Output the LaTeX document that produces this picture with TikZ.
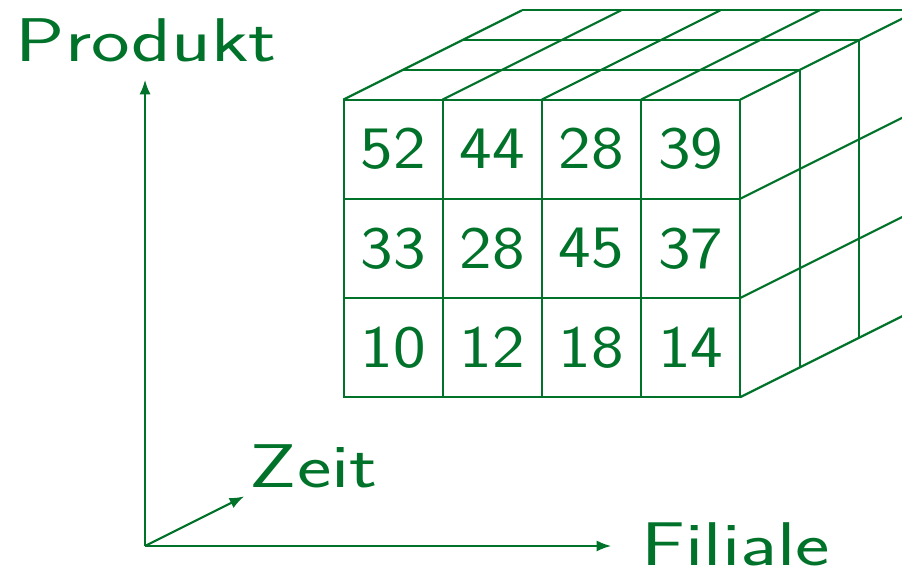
\documentclass[tikz,border=0pt]{standalone}
\usepackage{graphicx}
\usetikzlibrary{arrows.meta}
\definecolor{cubegreen}{RGB}{0,114,42}
\newcommand{\cellnum}[1]{\scalebox{1.15}[1]{#1}}
\newcommand{\axisname}[1]{\scalebox{1.33}[1]{\fontsize{17.7}{21}\selectfont #1}}
\tikzset{
  cubeline/.style={draw=cubegreen, line width=0.62pt},
  axisline/.style={cubeline, -{Latex[length=4.2pt,width=3.2pt]}},
  cellval/.style={text=cubegreen, font=\sffamily\fontsize{17.28}{20}\selectfont, inner sep=0pt},
  axislabel/.style={cellval, anchor=base west}
}
\begin{document}
\begin{tikzpicture}

\clip (-1.462,-0.242) rectangle (7.631,5.504);

% axes
\coordinate (origin) at (0,0);
\coordinate (produktend) at (0,4.7);
\coordinate (zeitend) at (1,0.5);
\coordinate (filialeend) at (4.7,0);

\draw [axisline] (origin) -- (produktend);
\draw [axisline] (origin) -- (zeitend);
\draw [axisline] (origin) -- (filialeend);

\node [axislabel] (produkt) at (-1.31,4.88) {\axisname{Produkt}};
\node [axislabel] (zeit) at (1.05,0.585) {\axisname{Zeit}};
\node [axislabel] (filiale) at (5.0,-0.2) {\axisname{Filiale}};

% front face
\draw [cubeline] (2.005,1.5) rectangle (6,4.5);
\draw [cubeline] (2,2.5) -- (6,2.5);
\draw [cubeline] (2,3.5) -- (6,3.5);
\draw [cubeline] (3,1.5) -- (3,4.5);
\draw [cubeline] (4,1.5) -- (4,4.5);
\draw [cubeline] (5,1.5) -- (5,4.5);

% top face
\draw [cubeline] (2,4.5) -- (3.8,5.4);
\draw [cubeline] (3,4.5) -- (4.8,5.4);
\draw [cubeline] (4,4.5) -- (5.8,5.4);
\draw [cubeline] (5,4.5) -- (6.8,5.4);
\draw [cubeline] (6,4.5) -- (7.8,5.4);
\draw [cubeline] (2.6,4.8) -- (6.6,4.8);
\draw [cubeline] (3.2,5.1) -- (7.2,5.1);
\draw [cubeline] (3.8,5.4) -- (7.8,5.4);

% right face
\draw [cubeline] (6,1.5) -- (7.8,2.4);
\draw [cubeline] (6,2.5) -- (7.8,3.4);
\draw [cubeline] (6,3.5) -- (7.8,4.4);
\draw [cubeline] (6.6,1.8) -- (6.6,4.8);
\draw [cubeline] (7.2,2.1) -- (7.2,5.1);

% cell values
\node [cellval] (a1) at (2.5,4) {\cellnum{52}};
\node [cellval] (a2) at (3.5,4) {\cellnum{44}};
\node [cellval] (a3) at (4.5,4) {\cellnum{28}};
\node [cellval] (a4) at (5.5,4) {\cellnum{39}};

\node [cellval] (b1) at (2.5,3) {\cellnum{33}};
\node [cellval] (b2) at (3.5,3) {\cellnum{28}};
\node [cellval] (b3) at (4.5,3) {\cellnum{45}};
\node [cellval] (b4) at (5.5,3) {\cellnum{37}};

\node [cellval] (c1) at (2.5,2) {\cellnum{10}};
\node [cellval] (c2) at (3.5,2) {\cellnum{12}};
\node [cellval] (c3) at (4.5,2) {\cellnum{18}};
\node [cellval] (c4) at (5.5,2) {\cellnum{14}};

\end{tikzpicture}
\end{document}
